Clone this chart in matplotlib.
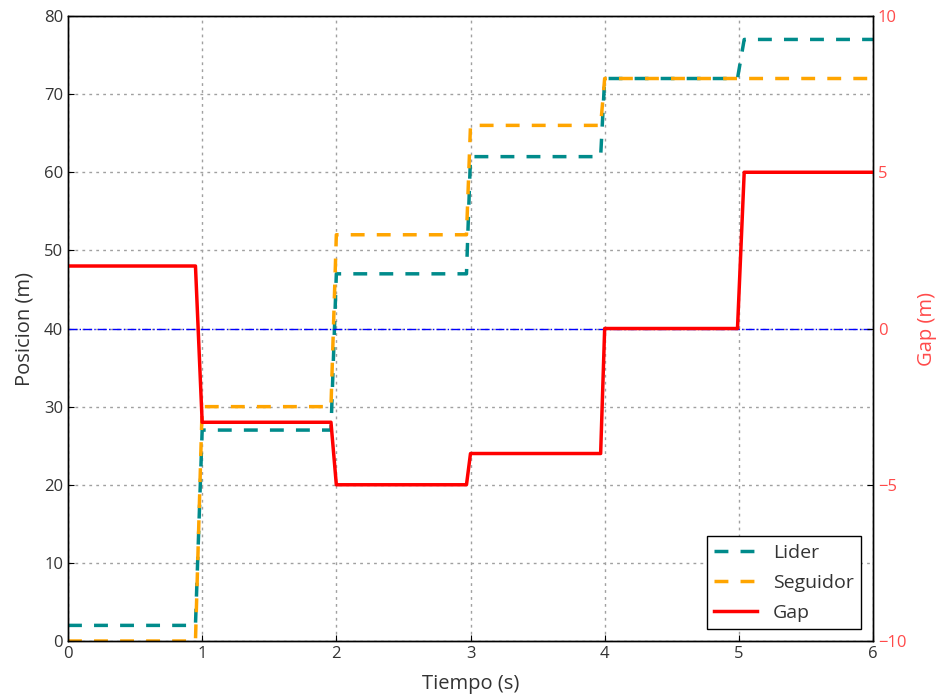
import numpy as np
import matplotlib
matplotlib.use("Agg")
import matplotlib.pyplot as plt

# Step profiles: breakpoints (s) and positions (m)
tiempo = [0.0, 0.95, 1.0, 1.96, 2.0, 2.97, 3.0, 3.97, 4.0, 4.99, 5.04, 6.0]
lider = [2, 2, 27, 27, 47, 47, 62, 62, 72, 72, 77, 77]
seguidor = [0, 0, 30, 30, 52, 52, 66, 66, 72, 72, 72, 72]
gap = [2, 2, -3, -3, -5, -5, -4, -4, 0, 0, 5, 5]

TEXT = "#333333"
RED_TXT = "#ff4a4a"

plt.rcParams.update({
    "font.family": ["Open Sans", "DejaVu Sans"],
    "font.size": 12,
    "text.color": TEXT,
    "axes.labelcolor": TEXT,
    "xtick.color": "black",
    "ytick.color": "black",
    "xtick.labelcolor": TEXT,
    "ytick.labelcolor": TEXT,
    "xtick.direction": "in",
    "ytick.direction": "in",
    "xtick.major.size": 4,
    "ytick.major.size": 4,
    "axes.linewidth": 1.0,
})

fig = plt.figure(figsize=(9.38, 6.96), dpi=100)
ax = fig.add_axes([0.0725, 0.079, 0.8582, 0.898])
ax2 = ax.twinx()

l1, = ax.plot(tiempo, lider, "--", color="#008b8b", lw=2.5, dashes=(4, 3.5), label="Lider")
l2, = ax.plot(tiempo, seguidor, "--", color="orange", lw=2.5, dashes=(4, 3.5), label="Seguidor")
ax.axhline(40, color="blue", lw=1, ls="-.")
l3, = ax2.plot(tiempo, gap, "-", color="red", lw=2.5, label="Gap")

ax.set_xlim(0, 6)
ax.set_ylim(0, 80)
ax2.set_ylim(-10, 10)
ax.set_yticks(np.arange(0, 81, 10))
ax2.set_yticks([-10, -5, 0, 5, 10])
ax.grid(True, color="#a0a0a0", ls=(0, (2, 3)), lw=1)

ax.set_xlabel("Tiempo (s)", fontsize=14.5, labelpad=9)
ax.set_ylabel("Posicion (m)", fontsize=14.5, labelpad=7)
ax2.set_ylabel("Gap (m)", color=RED_TXT, fontsize=14.5, labelpad=8)
ax2.tick_params(axis="y", colors="black", labelcolor=RED_TXT)
for a in (ax, ax2):
    a.tick_params(top=False)

leg = ax2.legend(handles=[l1, l2, l3], loc="lower right", fancybox=False,
                 framealpha=1, edgecolor="black", borderaxespad=0.6,
                 handlelength=2.2, labelspacing=0.6, fontsize=14)
leg.get_frame().set_linewidth(1)

fig.savefig("out.png", dpi=100, facecolor="white")
